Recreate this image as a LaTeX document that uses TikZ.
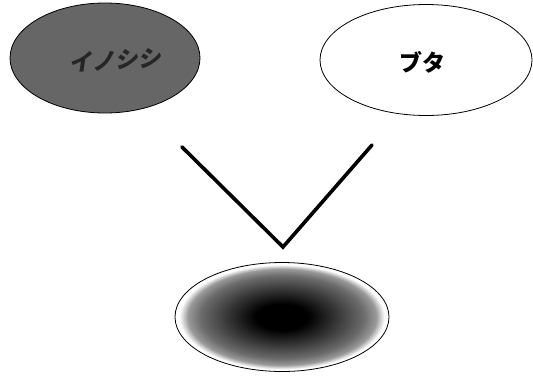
\documentclass[tikz,border=0pt]{standalone}
\usepackage{fontspec}
\newfontfamily\jp{Noto Sans CJK JP}
\usetikzlibrary{shapes.geometric}
\pgfdeclareradialshading{hybrid}{\pgfpoint{0bp}{0bp}}{color(0bp)=(black); color(6bp)=(black); color(13bp)=(black!78); color(19bp)=(black!58); color(22bp)=(black!40); color(24bp)=(white); color(50bp)=(white)}
\tikzset{
  oval/.style={ellipse, draw=black, line width=0.8pt, inner sep=0pt},
  vline/.style={line width=3.6pt, line cap=round, line join=miter},
  jplabel/.style={font=\jp\bfseries\fontsize{23}{26}\selectfont}
}
\begin{document}
\begin{tikzpicture}[x=1pt,y=-1pt]
\useasboundingbox (0,0) rectangle (533,378);
\node[oval, fill=black!60, minimum width=190pt, minimum height=110pt] (boar) at (105,58) {};
\node[jplabel, text=black!85, rotate=3, xslant=0.2] (boarlabel) at (117,60) {イノシシ};
\node[oval, fill=white, minimum width=212pt, minimum height=111pt] (pig) at (426,60) {};
\node[jplabel, text=black] (piglabel) at (422,62) {ブタ};
\node[oval, minimum width=214pt, minimum height=109pt, path picture={
  \shade[shading=hybrid] (path picture bounding box.south west) rectangle (path picture bounding box.north east);
}] (hybrid) at (282,317) {};
\coordinate (vl) at (182,147);
\coordinate (vb) at (283,247);
\coordinate (vr) at (372,145);
\draw[vline] (vl) -- (vb) -- (vr);
\end{tikzpicture}
\end{document}
